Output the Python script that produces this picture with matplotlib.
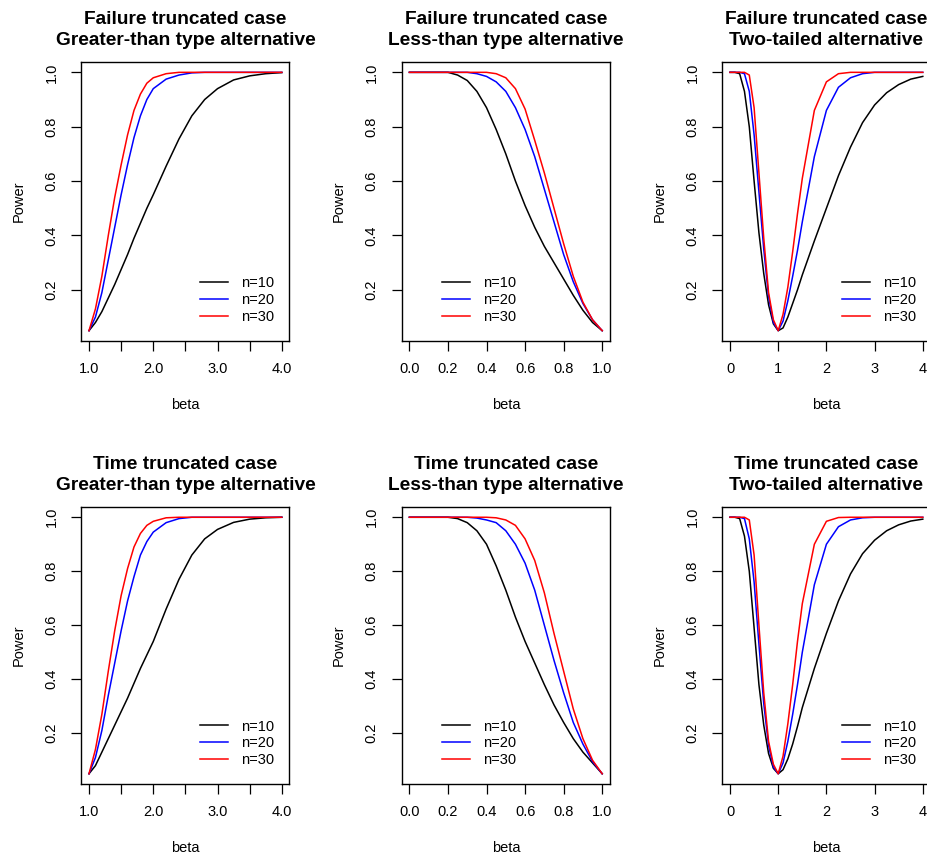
import matplotlib

matplotlib.use("Agg")
import matplotlib.pyplot as plt

plt.rcParams["font.family"] = ["Liberation Sans", "DejaVu Sans"]

# greater-than type alternative
beta_gt = [1.0, 1.1, 1.2, 1.3, 1.4, 1.5, 1.6, 1.7, 1.8, 1.9, 2.0, 2.2, 2.4, 2.6, 2.8, 3.0, 3.25, 3.5, 3.75, 4.0]
fail_gt_n10 = [0.05, 0.08, 0.12, 0.17, 0.22, 0.275, 0.33, 0.39, 0.445, 0.50, 0.55, 0.655, 0.755, 0.84, 0.90, 0.94, 0.972, 0.987, 0.995, 0.999]
fail_gt_n20 = [0.05, 0.10, 0.19, 0.31, 0.43, 0.55, 0.66, 0.76, 0.84, 0.90, 0.94, 0.975, 0.99, 0.998, 1.0, 1.0, 1.0, 1.0, 1.0, 1.0]
fail_gt_n30 = [0.05, 0.13, 0.25, 0.40, 0.54, 0.66, 0.77, 0.86, 0.92, 0.96, 0.98, 0.995, 1.0, 1.0, 1.0, 1.0, 1.0, 1.0, 1.0, 1.0]
time_gt_n10 = [0.05, 0.08, 0.13, 0.18, 0.23, 0.28, 0.33, 0.385, 0.44, 0.49, 0.54, 0.66, 0.77, 0.86, 0.92, 0.955, 0.981, 0.993, 0.998, 1.0]
time_gt_n20 = [0.05, 0.11, 0.21, 0.34, 0.46, 0.58, 0.69, 0.78, 0.86, 0.91, 0.945, 0.98, 0.995, 1.0, 1.0, 1.0, 1.0, 1.0, 1.0, 1.0]
time_gt_n30 = [0.05, 0.14, 0.27, 0.43, 0.58, 0.71, 0.81, 0.89, 0.94, 0.97, 0.985, 0.998, 1.0, 1.0, 1.0, 1.0, 1.0, 1.0, 1.0, 1.0]

# less-than type alternative
beta_lt = [0.0, 0.05, 0.1, 0.15, 0.2, 0.25, 0.3, 0.35, 0.4, 0.45, 0.5, 0.55, 0.6, 0.65, 0.7, 0.75, 0.8, 0.85, 0.9, 0.95, 1.0]
fail_lt_n10 = [1.0, 1.0, 1.0, 1.0, 1.0, 0.99, 0.97, 0.93, 0.87, 0.79, 0.70, 0.60, 0.51, 0.43, 0.36, 0.30, 0.24, 0.18, 0.125, 0.08, 0.05]
fail_lt_n20 = [1.0, 1.0, 1.0, 1.0, 1.0, 1.0, 1.0, 0.995, 0.985, 0.965, 0.93, 0.87, 0.79, 0.69, 0.57, 0.45, 0.33, 0.23, 0.15, 0.09, 0.05]
fail_lt_n30 = [1.0, 1.0, 1.0, 1.0, 1.0, 1.0, 1.0, 1.0, 1.0, 0.995, 0.98, 0.94, 0.865, 0.75, 0.63, 0.50, 0.37, 0.25, 0.155, 0.09, 0.05]
time_lt_n10 = [1.0, 1.0, 1.0, 1.0, 1.0, 0.995, 0.98, 0.95, 0.90, 0.82, 0.73, 0.63, 0.54, 0.46, 0.38, 0.305, 0.24, 0.18, 0.13, 0.09, 0.05]
time_lt_n20 = [1.0, 1.0, 1.0, 1.0, 1.0, 1.0, 1.0, 0.997, 0.99, 0.98, 0.95, 0.90, 0.83, 0.73, 0.60, 0.47, 0.35, 0.24, 0.16, 0.095, 0.05]
time_lt_n30 = [1.0, 1.0, 1.0, 1.0, 1.0, 1.0, 1.0, 1.0, 1.0, 0.998, 0.99, 0.97, 0.92, 0.84, 0.72, 0.57, 0.43, 0.29, 0.18, 0.10, 0.05]

# two-tailed alternative
beta_two = [0.0, 0.1, 0.2, 0.3, 0.4, 0.5, 0.6, 0.7, 0.8, 0.9, 1.0, 1.1, 1.2, 1.3, 1.4, 1.5, 1.75, 2.0, 2.25, 2.5, 2.75, 3.0, 3.25, 3.5, 3.75, 4.0]
fail_two_n10 = [1.0, 1.0, 0.995, 0.93, 0.80, 0.60, 0.41, 0.26, 0.145, 0.075, 0.05, 0.06, 0.10, 0.15, 0.20, 0.255, 0.38, 0.50, 0.62, 0.725, 0.815, 0.88, 0.925, 0.955, 0.975, 0.985]
fail_two_n20 = [1.0, 1.0, 1.0, 0.995, 0.93, 0.77, 0.56, 0.35, 0.175, 0.08, 0.05, 0.085, 0.16, 0.25, 0.345, 0.45, 0.69, 0.86, 0.945, 0.98, 0.995, 1.0, 1.0, 1.0, 1.0, 1.0]
fail_two_n30 = [1.0, 1.0, 1.0, 1.0, 0.99, 0.87, 0.63, 0.39, 0.19, 0.09, 0.05, 0.11, 0.21, 0.34, 0.48, 0.61, 0.86, 0.965, 0.995, 1.0, 1.0, 1.0, 1.0, 1.0, 1.0, 1.0]
time_two_n10 = [1.0, 1.0, 0.995, 0.93, 0.80, 0.59, 0.38, 0.23, 0.125, 0.07, 0.05, 0.065, 0.105, 0.16, 0.225, 0.295, 0.44, 0.57, 0.69, 0.79, 0.865, 0.915, 0.95, 0.972, 0.986, 0.993]
time_two_n20 = [1.0, 1.0, 1.0, 0.995, 0.92, 0.76, 0.53, 0.31, 0.155, 0.075, 0.05, 0.09, 0.17, 0.27, 0.38, 0.50, 0.75, 0.90, 0.965, 0.99, 0.998, 1.0, 1.0, 1.0, 1.0, 1.0]
time_two_n30 = [1.0, 1.0, 1.0, 1.0, 0.99, 0.86, 0.60, 0.35, 0.17, 0.085, 0.05, 0.115, 0.235, 0.38, 0.54, 0.68, 0.90, 0.985, 0.999, 1.0, 1.0, 1.0, 1.0, 1.0, 1.0, 1.0]

labels = ["n=10", "n=20", "n=30"]
colors = ["black", "blue", "red"]

panels = [
    ("Failure truncated case\nGreater-than type alternative", beta_gt, [fail_gt_n10, fail_gt_n20, fail_gt_n30], "gt"),
    ("Failure truncated case\nLess-than type alternative", beta_lt, [fail_lt_n10, fail_lt_n20, fail_lt_n30], "lt"),
    ("Failure truncated case\nTwo-tailed alternative", beta_two, [fail_two_n10, fail_two_n20, fail_two_n30], "two"),
    ("Time truncated case\nGreater-than type alternative", beta_gt, [time_gt_n10, time_gt_n20, time_gt_n30], "gt"),
    ("Time truncated case\nLess-than type alternative", beta_lt, [time_lt_n10, time_lt_n20, time_lt_n30], "lt"),
    ("Time truncated case\nTwo-tailed alternative", beta_two, [time_two_n10, time_two_n20, time_two_n30], "two"),
]

W, H = 928, 859
lefts = [81.3, 401.7, 722.3]
tops = [62, 507]
bottoms = [341, 784]
width = 208.2

xsetup = {
    "gt": ((1.0, 4.0), [1.0, 1.5, 2.0, 2.5, 3.0, 3.5, 4.0], ["1.0", "", "2.0", "", "3.0", "", "4.0"]),
    "lt": ((0.0, 1.0), [0.0, 0.2, 0.4, 0.6, 0.8, 1.0], ["0.0", "0.2", "0.4", "0.6", "0.8", "1.0"]),
    "two": ((0.0, 4.0), [0, 1, 2, 3, 4], ["0", "1", "2", "3", "4"]),
}
legend_anchor = {"gt": (0.925, 0.06), "lt": (0.55, 0.06), "two": (0.93, 0.06)}

fig = plt.figure(figsize=(W / 100, H / 100), dpi=100)
for k, (title, beta, series, kind) in enumerate(panels):
    row, col = divmod(k, 3)
    h = bottoms[row] - tops[row]
    ax = fig.add_axes([lefts[col] / W, 1 - bottoms[row] / H, width / W, h / H])
    for values, label, color in zip(series, labels, colors):
        ax.plot(beta, values, color=color, lw=1.1, label=label)

    (x0, x1), xticks, xlabels = xsetup[kind]
    pad = 0.04 * (x1 - x0)
    ax.set_xlim(x0 - pad, x1 + pad)
    ax.set_ylim(0.05 - 0.038, 1.0 + 0.038)
    ax.set_xticks(xticks)
    ax.set_xticklabels(xlabels)
    ax.set_yticks([0.2, 0.4, 0.6, 0.8, 1.0])
    ax.set_yticklabels(["0.2", "0.4", "0.6", "0.8", "1.0"], rotation=90, va="center")
    ax.tick_params(direction="out", length=7, width=0.9, labelsize=10.5)
    ax.tick_params(axis="x", pad=8)
    ax.tick_params(axis="y", pad=9.5)
    for spine in ax.spines.values():
        spine.set_linewidth(1.0)

    ax.set_title(title, fontsize=13.8, fontweight="bold", linespacing=1.3, pad=12)
    ax.text(0.5, -64 / h, "beta", transform=ax.transAxes, ha="center", va="center", fontsize=10.5)
    ax.text(-63 / width, 0.5, "Power", transform=ax.transAxes, ha="center", va="center",
            rotation=90, fontsize=10.5)

    ax.legend(loc="lower right", bbox_to_anchor=legend_anchor[kind], frameon=False, fontsize=10.5,
              handlelength=1.9, handletextpad=0.9, labelspacing=0.2, borderpad=0, borderaxespad=0)

fig.savefig("out.png", dpi=100)
